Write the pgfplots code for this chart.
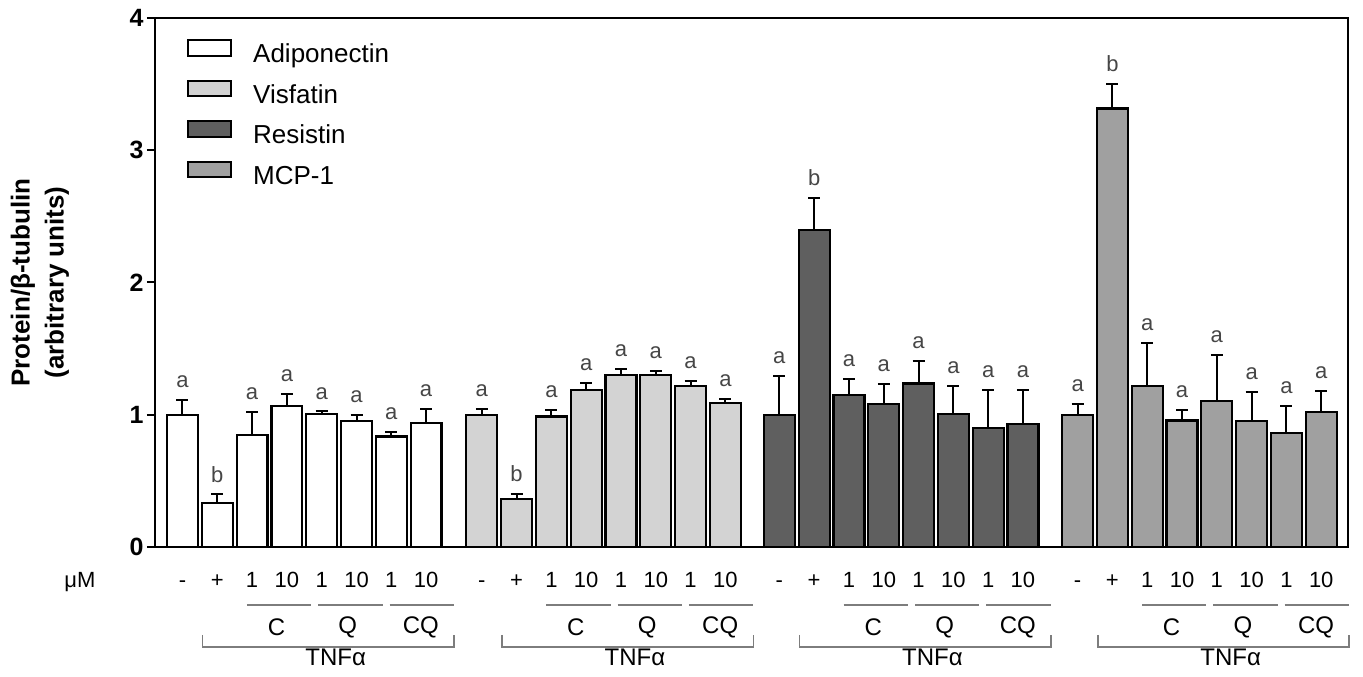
\documentclass[border=0pt]{standalone}
\usepackage{fontspec}
\setmainfont{Liberation Sans}
\usepackage{pgfplots}
\pgfplotsset{compat=1.18}
\usepackage{pgfplotstable}

\definecolor{visf}{RGB}{211,211,211}
\definecolor{resi}{RGB}{95,95,95}
\definecolor{mcpc}{RGB}{160,160,160}
\definecolor{lettergray}{RGB}{70,70,70}
\definecolor{linegray}{RGB}{125,125,125}

% x = bar position, y = mean, e = upper error, l = letter
\pgfplotstableread{
x y e l
0 1.000 0.110 a
1 0.333 0.064 b
2 0.847 0.171 a
3 1.069 0.089 a
4 1.008 0.017 a
5 0.954 0.046 a
6 0.835 0.038 a
7 0.936 0.107 a
}\adipo
\pgfplotstableread{
x y e l
8.6  0.997 0.048 a
9.6  0.361 0.043 b
10.6 0.987 0.048 a
11.6 1.189 0.048 a
12.6 1.303 0.045 a
13.6 1.303 0.027 a
14.6 1.217 0.038 a
15.6 1.090 0.030 a
}\visfa
\pgfplotstableread{
x y e l
17.15 0.997 0.296 a
18.15 2.394 0.245 b
19.15 1.149 0.121 a
20.15 1.081 0.154 a
21.15 1.237 0.170 a
22.15 1.005 0.210 a
23.15 0.902 0.285 a
24.15 0.929 0.258 a
}\resis
\pgfplotstableread{
x y e l
25.72 0.997 0.084 a
26.72 3.316 0.184 b
27.72 1.217 0.323 a
28.72 0.957 0.078 a
29.72 1.104 0.351 a
30.72 0.952 0.217 a
31.72 0.859 0.209 a
32.72 1.018 0.159 a
}\mcp

\pgfplotsset{
  mybar/.style={ybar, bar width=0.89, bar shift=0pt, draw=black, line width=2.2pt,
    legend image code/.code={\draw[##1, line width=2pt] (0pt,0.5pt) rectangle (43pt,16pt);},
    /pgfplots/error bars/y dir=plus,
    /pgfplots/error bars/y explicit,
    /pgfplots/error bars/error bar style={line width=2pt, black},
    /pgfplots/error bars/error mark options={rotate=90, mark size=6pt, line width=2pt, black}},
  letters/.style={forget plot, only marks, mark=*, mark size=0pt, draw=none,
    nodes near coords, point meta=explicit symbolic,
    nodes near coords style={anchor=south, inner sep=0pt, yshift=12pt,
      font=\fontsize{22}{22}\selectfont, text=lettergray}},
}

\begin{document}
\begin{tikzpicture}
\useasboundingbox (0,0) rectangle (1363pt,677pt);
\begin{axis}[
  at={(155pt,130pt)}, anchor=south west,
  scale only axis, width=1193pt, height=529pt,
  xmin=-0.79, xmax=33.49, ymin=0, ymax=4,
  ytick={0,1,2,3,4}, ytick pos=left,
  tick align=outside, major tick length=8pt,
  tick style={line width=2pt, black},
  axis line style={line width=2pt},
  /pgf/number format/assume math mode=true,
  yticklabel style={font=\bfseries\fontsize{25}{25}\selectfont},
  xtick={0,1,2,3,4,5,6,7,
         8.6,9.6,10.6,11.6,12.6,13.6,14.6,15.6,
         17.15,18.15,19.15,20.15,21.15,22.15,23.15,24.15,
         25.72,26.72,27.72,28.72,29.72,30.72,31.72,32.72},
  xticklabels={-,+,1,10,1,10,1,10,
               -,+,1,10,1,10,1,10,
               -,+,1,10,1,10,1,10,
               -,+,1,10,1,10,1,10},
  xtick style={draw=none},
  xticklabel style={font=\fontsize{22}{22}\selectfont, inner sep=0pt,
    text height=15.5pt, text depth=0pt, yshift=-17pt},
  ylabel={Protein/β-tubulin\\(arbitrary units)},
  ylabel style={at={(axis description cs:-0.0964,0.5)}, anchor=center,
    align=center, font=\bfseries\fontsize{26}{34}\selectfont},
  legend style={at={(axis description cs:0,1)}, anchor=north west,
    xshift=32pt, yshift=-21pt, draw=none, fill=none, inner sep=0pt,
    row sep=11.2pt, font=\fontsize{26}{26}\selectfont,
    nodes={inner sep=0pt, text height=19pt, text depth=5.5pt},
    /tikz/every odd column/.append style={column sep=21pt}},
  legend cell align=left,
  clip=false,
]
\addplot[mybar, fill=white] table[x=x, y=y, y error=e] {\adipo};
\addlegendentry{Adiponectin}
\addplot[mybar, fill=visf] table[x=x, y=y, y error=e] {\visfa};
\addlegendentry{Visfatin}
\addplot[mybar, fill=resi] table[x=x, y=y, y error=e] {\resis};
\addlegendentry{Resistin}
\addplot[mybar, fill=mcpc] table[x=x, y=y, y error=e] {\mcp};
\addlegendentry{MCP-1}

\addplot[letters] table[x=x, y expr=\thisrow{y}+\thisrow{e}, meta=l] {\adipo};
\addplot[letters] table[x=x, y expr=\thisrow{y}+\thisrow{e}, meta=l] {\visfa};
\addplot[letters] table[x=x, y expr=\thisrow{y}+\thisrow{e}, meta=l] {\resis};
\addplot[letters] table[x=x, y expr=\thisrow{y}+\thisrow{e}, meta=l] {\mcp};

\pgfplotsinvokeforeach{0,8.6,17.15,25.72}{
  \draw[linegray, line width=1.5pt] (axis cs:#1+1.85,-0.44) -- (axis cs:#1+3.7,-0.44);
  \draw[linegray, line width=1.5pt] (axis cs:#1+3.9,-0.44) -- (axis cs:#1+5.75,-0.44);
  \draw[linegray, line width=1.5pt] (axis cs:#1+5.95,-0.44) -- (axis cs:#1+7.8,-0.44);
  \node[font=\fontsize{24}{24}\selectfont] at (axis cs:#1+2.7,-0.61) {C};
  \node[font=\fontsize{24}{24}\selectfont] at (axis cs:#1+4.75,-0.61) {Q};
  \node[font=\fontsize{24}{24}\selectfont] at (axis cs:#1+6.85,-0.61) {CQ};
  \draw[linegray, line width=1.5pt] (axis cs:#1+0.58,-0.665) -- (axis cs:#1+0.58,-0.756)
    -- (axis cs:#1+7.8,-0.756) -- (axis cs:#1+7.8,-0.665);
  \node[font=\fontsize{24}{24}\selectfont] at (axis cs:#1+4.4,-0.835) {TNFα};
}
\end{axis}
\node[anchor=base, font=\fontsize{22}{22}\selectfont] at (80pt,89pt) {μM};
\end{tikzpicture}
\end{document}
